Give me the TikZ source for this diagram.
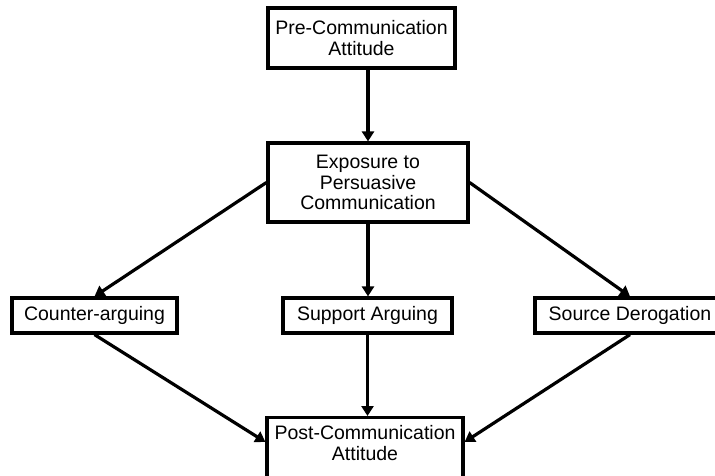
\documentclass[tikz,border=0pt]{standalone}
\usepackage{fontspec}
\setmainfont{Liberation Sans}
\usetikzlibrary{arrows.meta,calc}
\begin{document}
\begin{tikzpicture}[x=1pt,y=-1pt,
  box/.style={draw,line width=3.2pt,inner sep=0pt,align=center,
    font=\fontsize{19.5}{20.5}\selectfont},
  conn/.style={line width=3.2pt,-{Triangle[length=10pt,width=12pt]}}]
\useasboundingbox (0,0) rectangle (715,475);
\node[box,minimum width=187,minimum height=60] (top) at (361.5,38) {Pre-Communication\\Attitude};
\node[box,minimum width=200,minimum height=79] (mid) at (368,182.5) {Exposure to\\Persuasive\\Communication};
\node[box,minimum width=165,minimum height=35] (counter) at (94.5,315.5) {Counter-arguing};
\node[box,minimum width=169,minimum height=35] (support) at (367.5,315.5) {Support Arguing};
\node[box,minimum width=190,minimum height=35] (source) at (630,315.5) {Source Derogation};
\node[box,minimum width=196,anchor=north,inner ysep=8pt,text depth=32pt] (post) at (365,416) {Post-Communication\\Attitude};
\coordinate (postL) at ($(post.north west)+(0,26)$);
\coordinate (postR) at ($(post.north east)+(0,26)$);
\draw[conn] (top.south -| mid.north) -- (mid.north);
\draw[conn] (mid.south) -- (mid.south |- support.north);
\draw[conn] (mid.west) -- (counter.north);
\draw[conn] (mid.east) -- (source.north);
\draw[conn] (support.south) -- (support.south |- post.north);
\draw[conn] (counter.south) -- (postL);
\draw[conn] (source.south) -- (postR);
\end{tikzpicture}
\end{document}
